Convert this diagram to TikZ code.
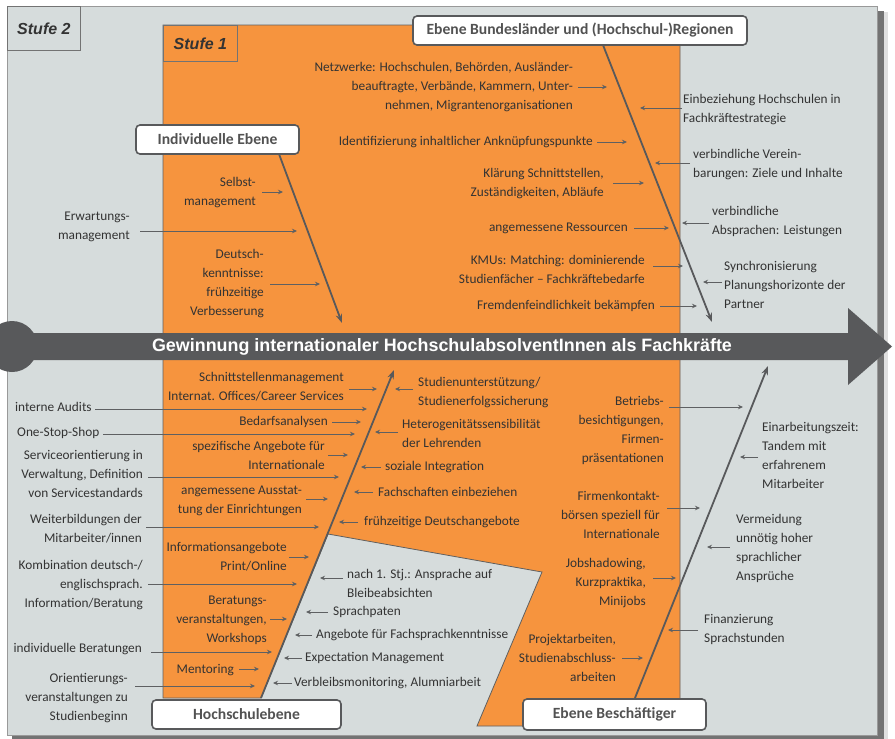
\documentclass[tikz,border=0pt]{standalone}
\usepackage{fontspec}
\setmainfont{Carlito}
\newfontfamily\arialf{Liberation Sans}
\usetikzlibrary{arrows.meta}
\definecolor{org}{HTML}{F6943E}
\definecolor{bgg}{HTML}{D6DCDC}
\definecolor{dk}{HTML}{58595B}
\definecolor{txt}{HTML}{333333}
\definecolor{arr}{HTML}{5E6062}
\newcommand\sar[4]{\coordinate (#1a) at (#2,#4); \coordinate (#1b) at (#3,#4); \draw[sarrow] (#1a) -- (#1b);}
\begin{document}
\begin{tikzpicture}[x=1pt,y=-1pt,
  lbl/.style={font=\fontsize{13.3}{19}\selectfont, text=txt, inner sep=0pt},
  rt/.style={lbl, anchor=east, align=right},
  lt/.style={lbl, anchor=west, align=left},
  sarrow/.style={draw=arr, line width=0.8pt, -{Stealth[length=5pt,width=4.5pt]}},
  bigline/.style={draw=dk, line width=1.8pt, -{Stealth[length=9pt,width=6.5pt]}},
  levelbox/.style={draw=dk, line width=1.6pt, fill=white, rounded corners=4pt, text=black!68, font=\bfseries\fontsize{15.6}{17}\selectfont, inner sep=0pt},
  stufebox/.style={draw=gray!90!black, line width=0.8pt, anchor=north west, inner sep=0pt, font=\arialf\bfseries\itshape\fontsize{16}{18}\selectfont, text=black!80}
]
\useasboundingbox (0,0) rectangle (895,739);
% shadow and outer box
\fill[black!12] (13,12) rectangle (888,739);
\fill[black!55] (12,11) rectangle (884,739);
\filldraw[fill=bgg, draw=gray!80] (7,6) rectangle (877,735);
\node[stufebox, minimum width=73pt, minimum height=44pt] (s2) at (7,6) {Stufe 2};
% orange region
\filldraw[fill=org, draw=gray!75!black, line width=0.8pt]
  (163,25) -- (680,25) -- (680,726) -- (477,726) -- (542,572) -- (328,534) -- (261,698) -- (163,698) -- cycle;
\node[stufebox, minimum width=74pt, minimum height=36pt] (s1) at (163,25) {Stufe 1};
% main arrow
\fill[dk] (12,346.5) circle (25.5);
\fill[dk] (12,333) -- (848,333) -- (848,308) -- (892,346.5) -- (848,385) -- (848,360) -- (12,360) -- cycle;
\node[text=white, font=\arialf\bfseries\fontsize{17.9}{20}\selectfont, inner sep=0pt] (goal) at (442,347) {Gewinnung internationaler HochschulabsolventInnen als Fachkräfte};
% level boxes
\node[levelbox, minimum width=163pt, minimum height=29pt] (ind) at (217.5,139.5) {Individuelle Ebene};
\node[levelbox, minimum width=334pt, minimum height=29pt] (bund) at (580,30.5) {Ebene Bundesländer und (Hochschul-)Regionen};
\coordinate (indA) at (279,154); \coordinate (indB) at (342,323);
\coordinate (bundA) at (603,45); \coordinate (bundB) at (712,322);
\coordinate (hsA) at (261,698); \coordinate (hsB) at (394,370);
\coordinate (beA) at (635,698); \coordinate (beB) at (768,366);
\draw[bigline] (indA) -- (indB);
\draw[bigline] (bundA) -- (bundB);
\draw[bigline] (hsA) -- (hsB);
\draw[bigline] (beA) -- (beB);
\node[levelbox, minimum width=189pt, minimum height=29pt] (hs) at (246.5,714.5) {Hochschulebene};
\node[levelbox, minimum width=183pt, minimum height=31pt] (be) at (614.5,714.5) {Ebene Beschäftiger};
% top: Bundeslaender
\node[rt] (t1) at (573,87.5) {Netzwerke: Hochschulen, Behörden, Ausländer-\\beauftragte, Verbände, Kammern, Unter-\\nehmen, Migrantenorganisationen};
\sar{at1}{578}{607}{87}
\node[rt] (t2) at (593,142) {Identifizierung inhaltlicher Anknüpfungspunkte};
\sar{at2}{597}{627}{142}
\node[rt] (t3) at (604,184) {Klärung Schnittstellen,\\Zuständigkeiten, Abläufe};
\sar{at3}{613}{644}{183}
\node[rt] (t4) at (628,228) {angemessene Ressourcen};
\sar{at4}{634}{669}{228}
\node[rt] (t5) at (645,269) {KMUs: Matching: dominierende\\Studienfächer – Fachkräftebedarfe};
\sar{at5}{653}{683}{266}
\node[rt] (t6) at (655,306) {Fremdenfeindlichkeit bekämpfen};
\sar{at6}{660}{697}{306}
\node[lt] (r1) at (683,110) {Einbeziehung Hochschulen in\\Fachkräftestrategie};
\sar{ar1}{682}{640}{108}
\node[lt] (r2) at (693,164.5) {verbindliche Verein-\\barungen: Ziele und Inhalte};
\sar{ar2}{690}{655}{163}
\node[lt] (r3) at (712,222) {verbindliche\\Absprachen: Leistungen};
\sar{ar3}{709}{682}{223}
\node[lt] (r4) at (724,284.5) {Synchronisierung\\Planungshorizonte der\\Partner};
\sar{ar4}{722}{703}{282}
% individual
\node[rt] (i1) at (256,192.5) {Selbst-\\management};
\sar{ai1}{262}{283}{192}
\node[rt] (i2) at (130,227) {Erwartungs-\\management};
\sar{ai2}{140}{297}{231}
\node[rt] (i3) at (264,284) {Deutsch-\\kenntnisse:\\frühzeitige\\Verbesserung};
\sar{ai3}{270}{320}{284}
% Hochschulebene left
\node[rt] (h1) at (344,387) {Schnittstellenmanagement\\Internat. Offices/Career Services};
\sar{ah1}{349}{377}{389}
\node[rt] (h2) at (328,422) {Bedarfsanalysen};
\sar{ah2}{332}{361}{422}
\node[rt] (h3) at (325,455.5) {spezifische Angebote für\\Internationale};
\sar{ah3}{328}{348}{455}
\node[rt] (h4) at (302,500.5) {angemessene Ausstat-\\tung der Einrichtungen};
\sar{ah4}{306}{328}{499}
\node[rt] (h5) at (287,556.5) {Informationsangebote\\Print/Online};
\sar{ah5}{289}{309}{557}
\node[rt] (h6) at (267,620) {Beratungs-\\veranstaltungen,\\Workshops};
\sar{ah6}{270}{287}{619}
\node[rt] (h7) at (234,670) {Mentoring};
\sar{ah7}{239}{259}{669}
% gray column
\node[lt] (g1) at (15,407) {interne Audits};
\sar{ag1}{95}{367}{409}
\node[lt] (g2) at (17,433) {One-Stop-Shop};
\sar{ag2}{103}{355}{434}
\node[rt] (g3) at (143,474) {Serviceorientierung in\\Verwaltung, Definition\\von Servicestandards};
\sar{ag3}{148}{339}{477}
\node[rt] (g4) at (142,529) {Weiterbildungen der\\Mitarbeiter/innen};
\sar{ag4}{146}{319}{527}
\node[rt] (g5) at (143,585) {Kombination deutsch-/\\englischsprach.\\Information/Beratung};
\sar{ag5}{148}{297}{584}
\node[rt] (g6) at (142,649) {individuelle Beratungen};
\sar{ag6}{151}{272}{652}
\node[rt] (g7) at (128,698) {Orientierungs-\\veranstaltungen zu\\Studienbeginn};
\sar{ag7}{135}{255}{686}
% Hochschulebene right
\node[lt] (hr1) at (418,393) {Studienunterstützung/\\Studienerfolgssicherung};
\sar{ahr1}{413}{395}{389}
\node[lt] (hr2) at (402,433) {Heterogenitätssensibilität\\der Lehrenden};
\sar{ahr2}{398}{375}{432}
\node[lt] (hr3) at (385,467) {soziale Integration};
\sar{ahr3}{381}{361}{467}
\node[lt] (hr4) at (378,492) {Fachschaften einbeziehen};
\sar{ahr4}{373}{354}{492}
\node[lt] (hr5) at (364,522) {frühzeitige Deutschangebote};
\sar{ahr5}{358}{339}{522}
\node[lt] (hr6) at (347,583) {nach 1. Stj.: Ansprache auf\\Bleibeabsichten};
\sar{ahr6}{343}{320}{578}
\node[lt] (hr7) at (333,612) {Sprachpaten};
\sar{ahr7}{328}{306}{612}
\node[lt] (hr8) at (316,635) {Angebote für Fachsprachkenntnisse};
\sar{ahr8}{312}{295}{635}
\node[lt] (hr9) at (305,658) {Expectation Management};
\sar{ahr9}{302}{284}{658}
\node[lt] (hr10) at (294,683) {Verbleibsmonitoring, Alumniarbeit};
\sar{ahr10}{292}{273}{683}
% Beschaeftiger
\node[rt] (b1) at (664,430) {Betriebs-\\besichtigungen,\\Firmen-\\präsentationen};
\sar{ab1}{669}{743}{407}
\node[rt] (b2) at (660,515) {Firmenkontakt-\\börsen speziell für\\Internationale};
\sar{ab2}{667}{700}{508}
\node[rt] (b3) at (646,583.5) {Jobshadowing,\\Kurzpraktika,\\Minijobs};
\sar{ab3}{653}{676}{578}
\node[rt] (b4) at (616,658) {Projektarbeiten,\\Studienabschluss-\\arbeiten};
\sar{ab4}{622}{643}{658}
\node[lt] (br1) at (762,455.5) {Einarbeitungszeit:\\Tandem mit\\erfahrenem\\Mitarbeiter};
\sar{abr1}{758}{740}{457}
\node[lt] (br2) at (736,548) {Vermeidung\\unnötig hoher\\sprachlicher\\Ansprüche};
\sar{abr2}{730}{707}{547}
\node[lt] (br3) at (704,629) {Finanzierung\\Sprachstunden};
\sar{abr3}{698}{668}{630}
\end{tikzpicture}
\end{document}
